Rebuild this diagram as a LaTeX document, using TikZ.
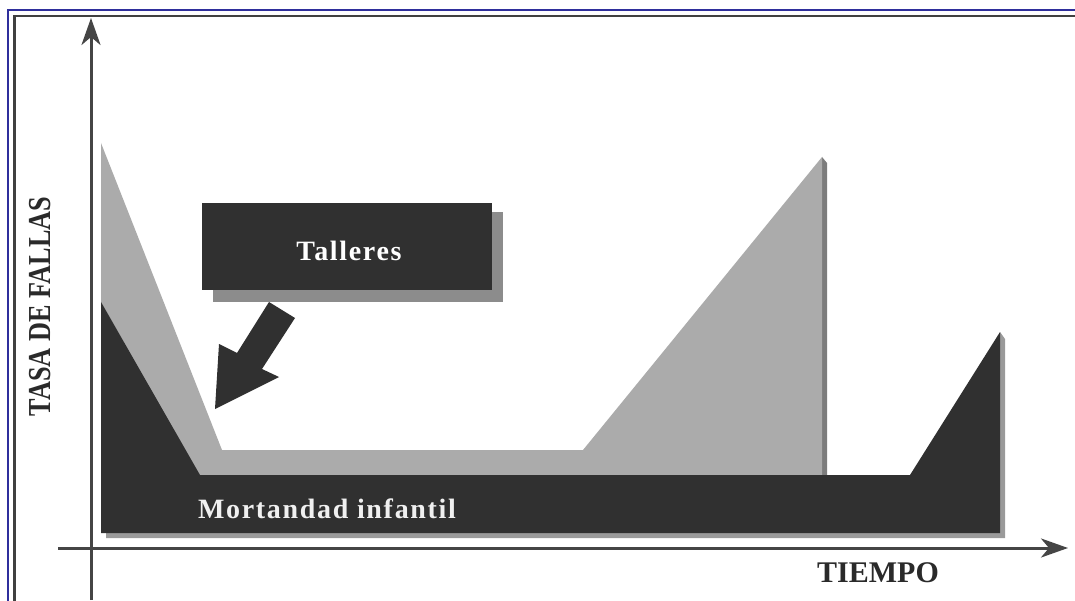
\documentclass[tikz,border=0pt]{standalone}
\usepackage{fontspec}
\setmainfont{Liberation Serif}
\usetikzlibrary{arrows.meta}
\definecolor{inkdark}{HTML}{303030}
\definecolor{lightfill}{HTML}{ABABAB}
\definecolor{edgegray}{HTML}{7C7C7C}
\definecolor{boxshade}{HTML}{8C8C8C}
\definecolor{baseshade}{HTML}{9A9A9A}
\definecolor{axisgray}{HTML}{454545}
\definecolor{labelink}{HTML}{2A2A2A}
\definecolor{outerblue}{HTML}{2F2F9C}
\definecolor{innerframe}{HTML}{404040}
\begin{document}
\begin{tikzpicture}[x=1pt,y=-1pt,
  axisline/.style={line width=3pt, draw=axisgray,
    -{Stealth[length=27pt,width=19pt,inset=8pt]}},
  whitelabel/.style={text=white, inner sep=0pt,
    font=\fontsize{28}{30}\selectfont\bfseries\addfontfeature{LetterSpace=6}},
  axislabel/.style={text=labelink, inner sep=0pt}]

\useasboundingbox (0,0) rectangle (1075,601);
\fill[white] (0,0) rectangle (1075,601);

% frame lines along the top and left edges
\begin{scope}
  \clip (0,0) rectangle (1075,601);
  \draw[outerblue, line width=2.6pt] (8,620) -- (8,10) -- (1090,10);
  \draw[innerframe, line width=2.6pt] (14.5,620) -- (14.5,16) -- (1090,16);
\end{scope}

% light curve (with its darker right edge)
\fill[edgegray] (822,157) -- (827,163) -- (827,475) -- (822,475) -- cycle;
\fill[lightfill] (101,143) -- (222,450) -- (583,450) -- (822,157)
  -- (822,475) -- (101,475) -- cycle;

% dark curve with its shadow
\fill[baseshade] (1000,332) -- (1005,339) -- (1005,538) -- (106,538)
  -- (106,533) -- (1000,533) -- cycle;
\fill[inkdark] (101,302) -- (200,475) -- (910,475) -- (1000,332)
  -- (1000,533) -- (101,533) -- cycle;
\node[whitelabel, text=white!94!black] (mortandad) at (327,509) {Mortandad infantil};

% Talleres box with shadow
\fill[boxshade] (213,212) rectangle (503,302);
\node[fill=inkdark, inner sep=0pt, minimum width=290pt, minimum height=87pt]
  (talleresbox) at (347,246.5) {};
\node[whitelabel] (talleres) at (349,251) {Talleres};

% block arrow pointing at the light curve
\fill[inkdark] (269,302) -- (295,318) -- (262,369) -- (279,377)
  -- (215,409) -- (219,344) -- (237,353) -- cycle;

% axes
\coordinate (yfoot) at (91,600);
\coordinate (ytop) at (91,18);
\coordinate (xstart) at (58,548);
\coordinate (xend) at (1068,548);
\draw[axisline] (yfoot) -- (ytop);
\draw[axisline] (xstart) -- (xend);

% axis labels
\node[axislabel, rotate=90] (tasa) at (40,306.5)
  {\scalebox{0.82}[1]{\fontsize{32}{34}\selectfont\bfseries TASA DE FALLAS}};
\node[axislabel, font=\fontsize{30}{32}\selectfont\bfseries] (tiempo) at (878,573) {TIEMPO};
\end{tikzpicture}
\end{document}
